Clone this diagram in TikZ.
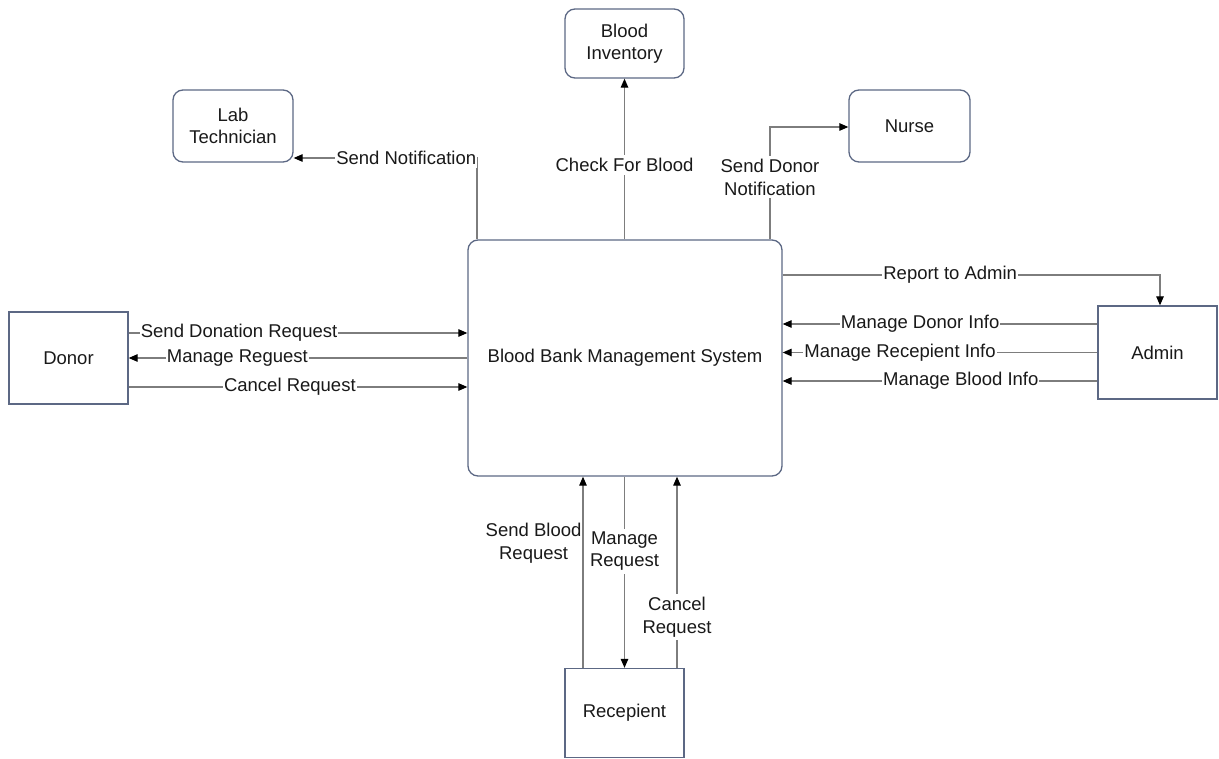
\documentclass[tikz,border=0pt]{standalone}
\usepackage{fontspec}
\setmainfont{Liberation Sans}
\usetikzlibrary{arrows.meta}
\definecolor{boxc}{RGB}{92,104,132}
\definecolor{linec}{RGB}{125,125,125}
\definecolor{txtc}{RGB}{25,25,25}
\begin{document}
\begin{tikzpicture}[x=1pt,y=-1pt,
  every node/.style={font=\fontsize{18.5}{22.5}\selectfont, text=txtc},
  rbox/.style={draw=boxc, line width=1.3pt, rounded corners=10pt, align=center, inner sep=0pt},
  sbox/.style={draw=boxc, line width=1.3pt, align=center, inner sep=0pt},
  conn/.style={draw=linec, line width=1.2pt, -{Triangle[length=9pt,width=7.5pt,color=black]}},
  lbl/.style={fill=white, inner xsep=1pt, inner ysep=3pt, align=center}
]
\useasboundingbox (0,0) rectangle (1219,759);

% nodes
\node[rbox, minimum width=120, minimum height=72] (lab) at (233,126) {Lab\\Technician};
\node[rbox, minimum width=119, minimum height=69] (inv) at (624.5,43.5) {Blood\\Inventory};
\node[rbox, minimum width=121, minimum height=72] (nurse) at (909.5,126) {Nurse};
\node[rbox, minimum width=314, minimum height=236] (main) at (625,358) {Blood Bank Management System};
\node[sbox, minimum width=119, minimum height=92] (donor) at (68.5,358) {Donor};
\node[sbox, minimum width=119, minimum height=93] (admin) at (1157.5,352.5) {Admin};
\node[sbox, minimum width=119, minimum height=89] (recep) at (624.5,713) {Recepient};

% top connectors
\draw[conn] ([xshift=-148]main.north) |- node[lbl, pos=0.693]{Send Notification} ([yshift=-32]lab.east);
\draw[conn] (main.north -| inv.south) -- node[lbl, pos=0.463]{Check For Blood} (inv.south);
\draw[conn] ([xshift=145]main.north) |- node[lbl, pos=0.276]{Send Donor\\Notification} ([yshift=-1]nurse.west);

% right connectors
\draw[conn] ([yshift=83]main.east) -| node[lbl, pos=0.222]{Report to Admin} ([xshift=2.5]admin.north);
\draw[conn] ([yshift=28.5]admin.west) -- node[lbl, pos=0.563]{Manage Donor Info} ([yshift=28.5]admin.west -| main.east);
\draw[conn] (admin.west) -- node[lbl, pos=0.627]{Manage Recepient Info} (admin.west -| main.east);
\draw[conn] ([yshift=-28.5]admin.west) -- node[lbl, pos=0.434]{Manage Blood Info} ([yshift=-28.5]admin.west -| main.east);

% left connectors
\draw[conn] ([yshift=25]donor.east) -- node[lbl, pos=0.326]{Send Donation Request} ([yshift=25]donor.east -| main.west);
\draw[conn] (donor.east -| main.west) -- node[lbl, pos=0.679]{Manage Reguest} (donor.east);
\draw[conn] ([yshift=-29]donor.east) -- node[lbl, pos=0.476]{Cancel Request} ([yshift=-29]donor.east -| main.west);

% bottom connectors
\draw[conn] ([xshift=-41.5]recep.north) -- node[pos=0.651, anchor=east, inner xsep=1pt, align=center]{Send Blood\\Request} ([xshift=-41.5]recep.north |- main.south);
\draw[conn] (main.south -| recep.north) -- node[lbl, pos=0.39]{Manage\\Request} (recep.north);
\draw[conn] ([xshift=52.5]recep.north) -- node[lbl, pos=0.266]{Cancel\\Request} ([xshift=52.5]recep.north |- main.south);
\end{tikzpicture}
\end{document}
